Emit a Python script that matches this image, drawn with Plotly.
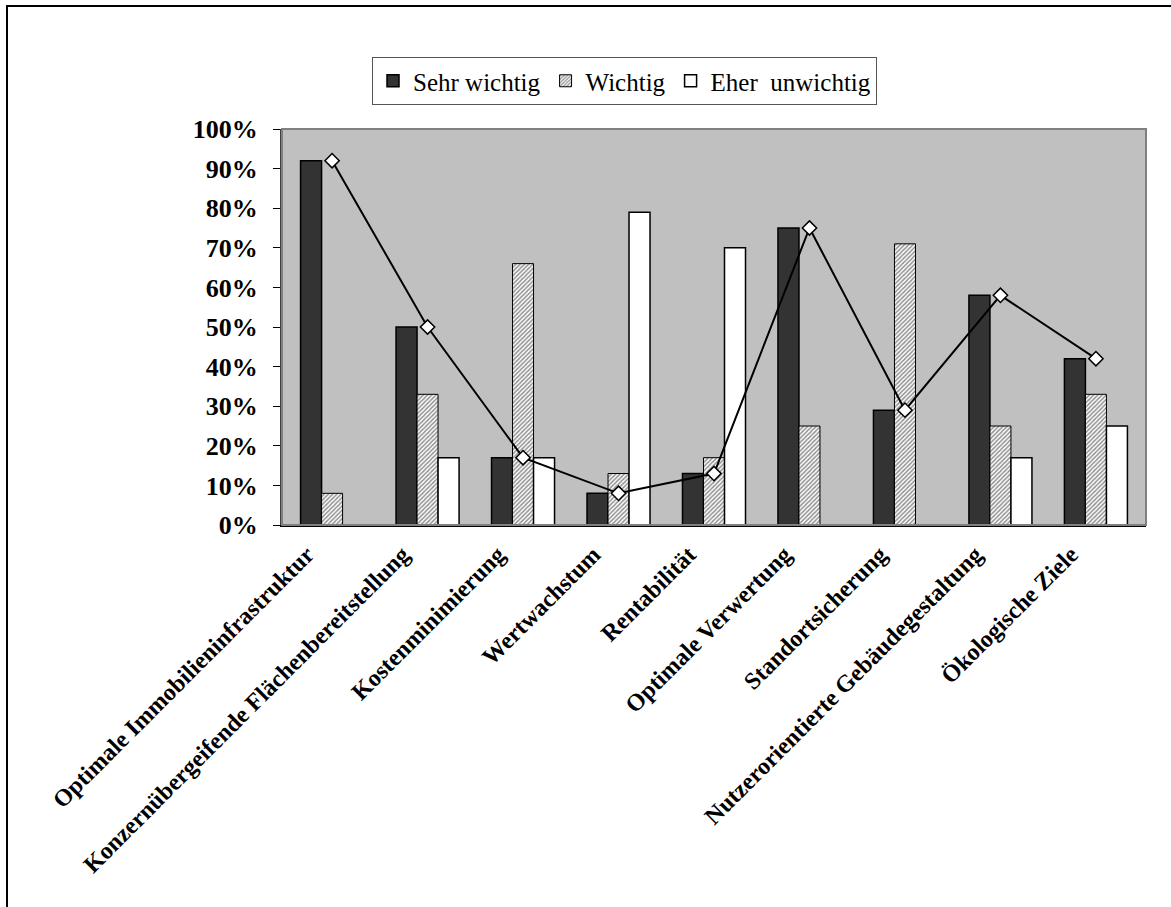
import plotly.graph_objects as go

categories = [
    "Optimale Immobilieninfrastruktur",
    "Konzernübergeifende Flächenbereitstellung",
    "Kostenminimierung",
    "Wertwachstum",
    "Rentabilität",
    "Optimale Verwertung",
    "Standortsicherung",
    "Nutzerorientierte Gebäudegestaltung",
    "Ökologische Ziele",
]
sehr_wichtig = [92, 50, 17, 8, 13, 75, 29, 58, 42]
wichtig = [8, 33, 66, 13, 17, 25, 71, 25, 33]
eher_unwichtig = [0, 17, 17, 79, 70, 0, 0, 17, 25]
y_ticks = list(range(0, 101, 10))
y_labels = [f"{v}%" for v in y_ticks]

FONT = "Liberation Serif"

W, H = 1171, 907
L, R, T, B = 282, 1146, 129, 525
pw, ph = R - L, B - T


def px_x(x):
    return (x - L) / pw


def px_y(y):
    return (B - y) / ph


fig = go.Figure()
fig.add_trace(go.Bar(
    x=categories, y=sehr_wichtig, name="Sehr wichtig",
    marker=dict(color="#333333", line=dict(color="#000000", width=1.5)),
))
fig.add_trace(go.Bar(
    x=categories, y=wichtig, name="Wichtig",
    marker=dict(color="#ffffff", line=dict(color="#000000", width=1),
                pattern=dict(shape="/", fgcolor="#222222", bgcolor="#ffffff",
                             size=3, solidity=0.5)),
))
fig.add_trace(go.Bar(
    x=categories, y=eher_unwichtig, name="Eher  unwichtig",
    marker=dict(color="#ffffff", line=dict(color="#000000", width=1.5)),
))
fig.add_trace(go.Scatter(
    x=categories, y=sehr_wichtig, mode="lines+markers", showlegend=False,
    line=dict(color="#000000", width=2),
    marker=dict(symbol="diamond", size=11, color="#ffffff",
                line=dict(color="#000000", width=1.5)),
))

fig.update_layout(
    width=W, height=H,
    margin=dict(l=L, r=W - R, t=T, b=H - B, autoexpand=False),
    paper_bgcolor="#ffffff",
    plot_bgcolor="#c0c0c0",
    barmode="group", bargap=0.34, bargroupgap=0,
    font=dict(family=FONT, color="#000000"),
    legend=dict(
        orientation="h", x=px_x(372), y=px_y(57), xanchor="left", yanchor="top",
        bordercolor="#555555", borderwidth=1, bgcolor="#ffffff",
        font=dict(family=FONT, size=25, color="#000000"),
        traceorder="normal", itemwidth=30,
    ),
    xaxis=dict(
        tickangle=-45, tickfont=dict(family=FONT, size=24, color="#000000", weight="bold"),
        showgrid=False, showline=True, linecolor="#000000", linewidth=2,
        ticks="", automargin=False, zeroline=False, ticklabelshift=-25,
        ticklabelstandoff=4,
    ),
    yaxis=dict(
        range=[0, 100], tickvals=y_ticks, ticktext=y_labels,
        tickfont=dict(family=FONT, size=26, color="#000000", weight="bold"),
        showgrid=False, showline=True, linecolor="#404040", linewidth=2,
        ticks="outside", ticklen=7, tickcolor="#000000", tickwidth=1,
        automargin=False, zeroline=False, ticklabelstandoff=10,
    ),
    shapes=[
        dict(type="rect", xref="paper", yref="paper", x0=0, x1=1, y0=0, y1=1,
             line=dict(color="#808080", width=2), layer="above"),
        dict(type="rect", xref="paper", yref="paper",
             x0=px_x(7), x1=px_x(1180), y0=px_y(915), y1=px_y(6),
             line=dict(color="#000000", width=2), fillcolor="rgba(0,0,0,0)", layer="below"),
    ],
)

fig.write_html("out.html")
